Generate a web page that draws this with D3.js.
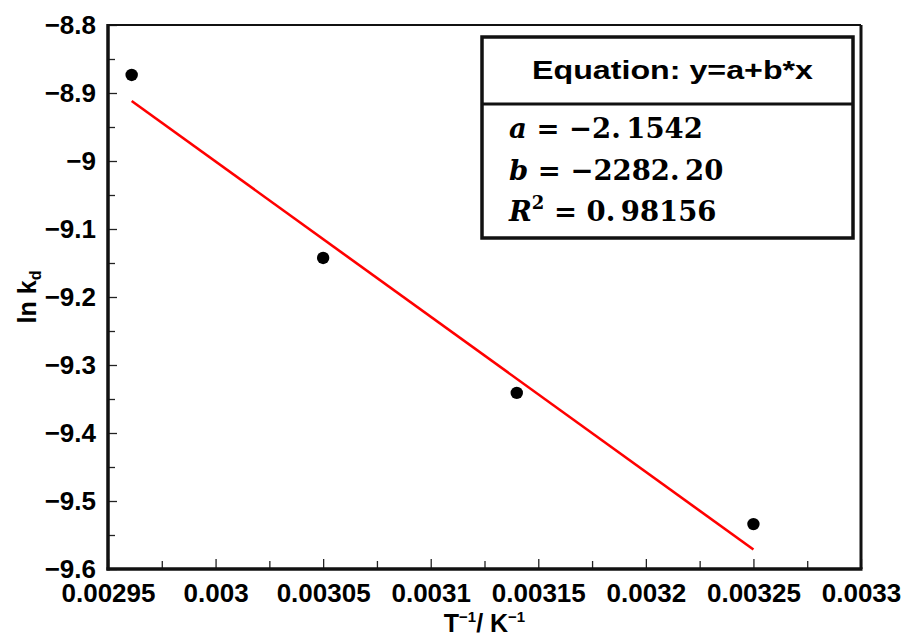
<!DOCTYPE html>
<html>
<head>
<meta charset="utf-8">
<script src="https://cdn.jsdelivr.net/npm/d3@7"></script>
<style>
  html, body { margin: 0; padding: 0; background: #fff; }
  svg { display: block; }
</style>
</head>
<body>
<svg id="chart" width="902" height="637"></svg>
<script>
// Arrhenius-type plot of ln kd against reciprocal temperature
const invT = [0.002961, 0.00305, 0.00314, 0.00325];
const lnKd = [-8.8735, -9.1426, -9.341, -9.534];

// Linear fit y = a + b*x
const fitLabels = ["a", "b", "R2"];
const fitValues = [-2.1542, -2282.20, 0.98156];
const fitText = ["\u22122.\u20091542", "\u22122282.\u200920", "0.\u200998156"];

const xTicks = [0.00295, 0.003, 0.00305, 0.0031, 0.00315, 0.0032, 0.00325, 0.0033];
const xTickLabels = ["0.00295", "0.003", "0.00305", "0.0031", "0.00315", "0.0032", "0.00325", "0.0033"];
const xMinorTicks = [0.002975, 0.003025, 0.003075, 0.003125, 0.003175, 0.003225, 0.003275];
const yTicks = [-8.8, -8.9, -9, -9.1, -9.2, -9.3, -9.4, -9.5, -9.6];
const yTickLabels = ["\u22128.8", "\u22128.9", "\u22129", "\u22129.1", "\u22129.2", "\u22129.3", "\u22129.4", "\u22129.5", "\u22129.6"];
const yMinorTicks = [-8.85, -8.95, -9.05, -9.15, -9.25, -9.35, -9.45, -9.55];

const svg = d3.select("#chart");
const L = 108, R = 861, T = 25, B = 569;
const FONT = "'Liberation Sans', Arial, sans-serif";

const x = d3.scaleLinear().domain([0.00295, 0.0033]).range([L, R]);
const y = d3.scaleLinear().domain([-9.6, -8.8]).range([B, T]);

// Major and minor ticks, drawn inward
const xAxis = d3.axisBottom(x).tickValues(xTicks)
  .tickFormat((d, i) => xTickLabels[i]).tickSizeInner(-10).tickSizeOuter(0).tickPadding(15);
const xMinor = d3.axisBottom(x).tickValues(xMinorTicks)
  .tickFormat("").tickSizeInner(-8).tickSizeOuter(0);
const yAxis = d3.axisLeft(y).tickValues(yTicks)
  .tickFormat((d, i) => yTickLabels[i]).tickSizeInner(-9).tickSizeOuter(0).tickPadding(12);
const yMinor = d3.axisLeft(y).tickValues(yMinorTicks)
  .tickFormat("").tickSizeInner(-7).tickSizeOuter(0);

function styleAxis(g) {
  g.select(".domain").remove();
  g.selectAll(".tick line").attr("stroke", "#222").attr("stroke-width", 1.3);
  g.selectAll(".tick text").attr("fill", "#000")
    .style("font-family", FONT).style("font-weight", "bold").style("font-size", "26px");
}

svg.append("g").attr("transform", `translate(0,${B})`).call(xAxis).call(styleAxis);
svg.append("g").attr("transform", `translate(0,${B})`).call(xMinor).call(styleAxis);
svg.append("g").attr("transform", `translate(${L},0)`).call(yAxis).call(styleAxis);
svg.append("g").attr("transform", `translate(${L},0)`).call(yMinor).call(styleAxis);

// Frame: heavier left/bottom, lighter top/right
svg.append("line").attr("x1", L).attr("x2", R).attr("y1", T).attr("y2", T)
  .attr("stroke", "#111").attr("stroke-width", 2);
svg.append("line").attr("x1", R).attr("x2", R).attr("y1", T).attr("y2", B)
  .attr("stroke", "#111").attr("stroke-width", 3);
svg.append("line").attr("x1", L).attr("x2", L).attr("y1", T - 1).attr("y2", B + 1.5)
  .attr("stroke", "#111").attr("stroke-width", 3.5);
svg.append("line").attr("x1", L - 1.5).attr("x2", R + 1.5).attr("y1", B).attr("y2", B)
  .attr("stroke", "#111").attr("stroke-width", 3.5);

// Fitted line across the data range
const [a, b] = fitValues;
const xExt = d3.extent(invT);
svg.append("path")
  .datum(xExt.map(v => [v, a + b * v]))
  .attr("d", d3.line().x(d => x(d[0])).y(d => y(d[1])))
  .attr("fill", "none").attr("stroke", "#ff0000").attr("stroke-width", 2.6);

// Data points
svg.append("g").selectAll("circle").data(invT).join("circle")
  .attr("cx", d => x(d)).attr("cy", (d, i) => y(lnKd[i]))
  .attr("r", 6.2).attr("fill", "#000");

// Axis titles
const xt = svg.append("text").attr("x", (L + R) / 2).attr("y", 632)
  .attr("text-anchor", "middle").style("font-family", FONT)
  .style("font-weight", "bold").style("font-size", "25px");
xt.append("tspan").text("T");
xt.append("tspan").attr("dy", -10).style("font-size", "15px").text("\u22121");
xt.append("tspan").attr("dy", 10).text("/ K");
xt.append("tspan").attr("dy", -10).style("font-size", "15px").text("\u22121");

const yt = svg.append("text").attr("transform", `translate(36,${(T + B) / 2}) rotate(-90)`)
  .attr("text-anchor", "middle").style("font-family", FONT)
  .style("font-weight", "bold").style("font-size", "25px");
yt.append("tspan").text("ln k");
yt.append("tspan").attr("dy", 5).style("font-size", "16px").text("d");

// Fit results table
const bx = 482, by = 37, bw = 371, bh = 201, divY = 104;
const box = svg.append("g");
box.append("rect").attr("x", bx).attr("y", by).attr("width", bw).attr("height", bh)
  .attr("fill", "#fff").attr("stroke", "#111").attr("stroke-width", 3.5);
box.append("line").attr("x1", bx).attr("x2", bx + bw).attr("y1", divY).attr("y2", divY)
  .attr("stroke", "#111").attr("stroke-width", 3);
box.append("text").attr("x", 532).attr("y", 79)
  .attr("textLength", 281).attr("lengthAdjust", "spacingAndGlyphs")
  .style("font-family", FONT).style("font-weight", "bold").style("font-size", "26px")
  .text("Equation: y=a+b*x");

const SERIF = "'DejaVu Serif', 'Liberation Serif', serif";
const rowY = [138, 180, 221];
fitLabels.forEach((lab, i) => {
  const t = box.append("text").attr("x", 509).attr("y", rowY[i])
    .style("font-family", SERIF).style("font-weight", "bold").style("font-size", "27.5px");
  if (lab === "R2") {
    t.append("tspan").style("font-style", "italic").text("R");
    t.append("tspan").attr("dy", -12).style("font-size", "18px").text("2");
    t.append("tspan").attr("dy", 12).text(" = " + fitText[i]);
  } else {
    t.append("tspan").style("font-style", "italic").text(lab);
    t.append("tspan").text(" = " + fitText[i]);
  }
});
</script>
</body>
</html>
